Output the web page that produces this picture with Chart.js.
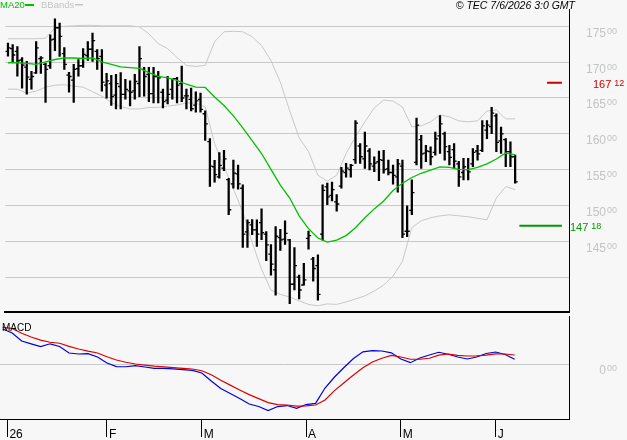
<!DOCTYPE html>
<html lang="en">
  <head>
    <meta charset="UTF-8" />
    <title>TEC daily chart</title>
    <script src="https://cdn.jsdelivr.net/npm/chart.js"></script>
    <style>
      body {
        margin: 0;
        background: #f7f7f7;
      }
      .wrap {
        position: relative;
        width: 627px;
        height: 440px;
        overflow: hidden;
      }
      #priceChart {
        position: absolute;
        left: 0;
        top: 0;
      }
      #macdChart {
        position: absolute;
        left: 0;
        top: 316px;
      }
    </style>
  </head>
  <body>
    <div class="wrap">
      <canvas id="priceChart" width="627" height="317"></canvas>
      <canvas id="macdChart" width="627" height="124"></canvas>
    </div>

    <script>
      // daily bars, index 0 = 31 Dec, index 1 = first session of January
      const opens = [171.5, 171.9, 171.5, 170.3, 169.3, 167.6, 168.5, 170.5, 169.7, 169.5,
        173.2, 174.8, 171.2, 168.2, 167.5, 169.1, 169.5, 170.9, 171.8, 171.5,
        170.8, 166.8, 167.0, 165.4, 166.6, 165.5, 166.0, 166.0, 167.0, 169.0,
        168.3, 165.6, 168.0, 165.8, 164.7, 166.2, 167.7, 167.0, 165.3, 164.8,
        164.0, 164.8, 162.8, 158.9, 155.4, 154.0, 155.2, 153.6, 153.0, 154.4,
        152.4, 146.3, 147.3, 146.6, 147.6, 146.0, 143.2, 141.0, 145.5, 145.3,
        145.2, 139.0, 140.0, 138.9, 145.4, 142.5, 141.6, 146.0, 152.6, 151.4,
        150.5, 152.7, 154.6, 155.0, 156.4, 158.3, 156.5, 157.6, 155.5, 156.1,
        156.3, 155.1, 154.6, 154.0, 155.5, 146.4, 149.3, 156.0, 159.2, 157.3,
        157.5, 157.4, 159.7, 160.0, 157.5, 157.8, 155.8, 154.6, 155.0, 155.8,
        157.6, 157.7, 160.5, 161.0, 162.5, 159.0, 159.2, 157.5, 156.8];
      const highs = [172.68, 172.44, 172.17, 170.65, 170.10, 168.72, 172.86, 170.79, 169.82, 173.83,
        176.04, 175.44, 172.03, 168.58, 169.68, 170.37, 171.89, 172.86, 174.06, 171.75,
        171.75, 168.44, 168.16, 168.30, 168.53, 167.61, 167.38, 168.30, 172.17, 169.27,
        169.27, 169.27, 168.72, 166.23, 168.03, 167.61, 167.89, 169.45, 166.23, 166.37,
        165.86, 165.68, 163.19, 159.32, 156.29, 157.39, 157.71, 153.80, 156.33, 155.64,
        152.88, 148.00, 148.04, 148.00, 149.52, 146.35, 144.55, 147.04, 146.66, 147.86,
        145.28, 144.13, 140.27, 141.92, 146.44, 142.75, 143.10, 152.88, 153.11, 153.25,
        151.52, 155.32, 155.87, 155.73, 161.85, 158.63, 160.25, 157.94, 156.80, 157.60,
        157.71, 156.33, 155.64, 156.42, 156.33, 149.93, 153.57, 162.20, 159.78, 158.40,
        158.18, 160.25, 162.54, 160.25, 158.40, 158.63, 156.15, 156.56, 156.56, 157.94,
        158.40, 161.85, 161.85, 163.70, 162.78, 160.94, 159.32, 158.87, 157.02];
      const lows = [170.83, 169.92, 168.03, 166.37, 165.54, 166.23, 168.44, 168.44, 164.39, 169.13,
        171.62, 170.79, 168.99, 165.82, 164.39, 168.03, 169.27, 170.24, 170.10, 168.99,
        165.95, 164.99, 163.95, 163.47, 163.47, 164.85, 163.88, 164.85, 165.20, 165.27,
        164.50, 164.30, 164.30, 163.61, 164.16, 164.85, 164.30, 164.50, 163.47, 163.19,
        163.01, 163.01, 159.09, 152.66, 153.25, 153.80, 154.84, 148.73, 152.42, 152.28,
        144.13, 144.13, 145.93, 144.27, 145.24, 142.30, 140.27, 137.46, 143.72, 144.55,
        136.30, 138.20, 136.95, 138.89, 143.90, 139.44, 136.77, 145.17, 150.11, 150.63,
        149.20, 152.42, 153.94, 153.94, 155.87, 155.87, 155.18, 154.95, 154.73, 153.46,
        154.49, 154.26, 152.97, 151.87, 145.51, 145.65, 148.73, 155.64, 155.18, 156.11,
        155.64, 157.02, 157.25, 156.33, 155.64, 155.18, 152.66, 153.57, 153.57, 155.42,
        156.33, 157.49, 159.32, 160.01, 157.49, 157.25, 155.42, 155.42, 153.11];
      const closes = [172.0, 171.0, 170.2, 169.6, 167.9, 168.0, 172.0, 170.6, 169.0, 173.1,
        174.8, 173.6, 169.7, 168.0, 169.0, 169.5, 171.1, 171.8, 173.0, 170.5,
        167.2, 167.4, 165.2, 167.0, 165.5, 166.2, 165.8, 167.3, 170.5, 168.0,
        165.6, 168.0, 167.8, 164.5, 165.5, 167.7, 166.8, 165.0, 165.3, 163.5,
        164.6, 163.4, 161.4, 155.5, 154.3, 155.6, 156.5, 149.4, 154.5, 153.0,
        146.0, 147.6, 146.6, 146.0, 146.2, 144.5, 141.8, 145.7, 145.2, 146.1,
        139.0, 141.6, 138.2, 139.6, 145.8, 141.2, 137.6, 152.1, 151.2, 152.2,
        150.2, 154.8, 155.2, 155.6, 161.5, 156.8, 158.3, 155.8, 155.9, 156.4,
        155.0, 154.6, 154.2, 155.8, 146.0, 146.4, 151.8, 161.2, 157.2, 157.6,
        156.8, 159.3, 161.4, 158.2, 156.7, 156.2, 154.0, 155.4, 154.7, 157.4,
        157.2, 161.1, 161.2, 162.9, 158.8, 160.0, 157.5, 156.8, 153.3];

      // indicator lines, read every second session
      const lineIdx = [0, 2, 4, 6, 8, 10, 12, 14, 16, 18, 20, 22, 24, 26, 28, 30, 32, 34, 36, 38,
        40, 42, 44, 46, 48, 50, 52, 54, 56, 58, 60, 62, 64, 66, 68, 70, 72, 74, 76, 78,
        80, 82, 84, 86, 88, 90, 92, 94, 96, 98, 100, 102, 104, 106, 108];
      const ma20 = [169.92, 169.92, 169.82, 169.68, 170.03, 170.37, 170.61, 170.58, 170.51, 170.58,
        170.03, 169.68, 169.34, 169.23, 169.13, 168.54, 168.03, 167.82, 167.47, 166.92,
        166.51, 166.47, 165.13, 163.95, 162.50, 160.84, 159.05, 157.25, 155.04, 152.84,
        151.04, 148.55, 146.76, 145.45, 144.89, 145.17, 145.79, 146.90, 148.28, 149.52,
        150.63, 152.08, 153.11, 153.90, 154.49, 154.93, 155.39, 155.32, 155.04, 155.00,
        155.32, 155.80, 156.49, 157.32, 157.05];
      const bbUpper = [173.27, 173.27, 173.27, 173.27, 173.34, 174.79, 175.00, 175.07, 175.14, 175.14,
        175.07, 175.07, 175.07, 175.07, 174.93, 173.96, 172.58, 171.89, 170.65, 169.55,
        169.41, 169.55, 172.86, 174.24, 174.31, 174.24, 173.55, 172.31, 170.24, 167.20,
        163.19, 159.46, 157.53, 154.22, 153.39, 154.22, 157.25, 159.60, 161.67, 163.61,
        164.71, 164.57, 163.74, 160.98, 161.12, 161.67, 162.64, 162.36, 161.81, 161.67,
        161.81, 163.19, 163.33, 162.09, 162.09];
      const bbLower = [166.23, 166.23, 165.68, 165.95, 166.51, 166.78, 166.85, 166.65, 166.51, 165.89,
        165.26, 164.37, 163.81, 163.47, 163.47, 163.68, 163.68, 163.88, 164.02, 164.30,
        164.30, 163.74, 158.64, 155.46, 152.28, 149.11, 144.83, 141.10, 138.20, 137.58,
        137.23, 136.68, 136.19, 135.99, 136.26, 136.19, 136.54, 136.95, 137.37, 138.06,
        138.89, 140.13, 142.20, 146.90, 147.86, 148.28, 148.55, 148.69, 148.55, 148.42,
        148.21, 148.00, 151.04, 152.63, 152.21];
      const macd = [5.25, 4.65, 3.45, 3.03, 2.60, 3.03, 2.63, 1.65, 1.50, 1.55,
        1.05, 0.15, -0.38, -0.41, -0.23, -0.45, -0.65, -0.65, -0.72, -0.83,
        -0.96, -1.35, -2.55, -3.68, -4.43, -5.18, -6.00, -6.38, -6.98, -6.38,
        -6.23, -6.65, -6.08, -5.90, -3.60, -1.95, -0.53, 0.83, 1.83, 2.00,
        1.95, 1.68, 0.75, 0.20, 0.90, 1.35, 1.76, 1.46, 1.05, 0.75,
        1.05, 1.58, 1.80, 1.43, 0.71];
      const signal = [5.49, 5.33, 4.61, 4.05, 3.59, 3.26, 3.11, 2.64, 2.25, 1.92,
        1.65, 1.08, 0.60, 0.26, 0.00, -0.18, -0.33, -0.44, -0.54, -0.66,
        -0.75, -1.01, -1.61, -2.43, -3.17, -3.89, -4.59, -5.19, -5.79, -6.09,
        -6.15, -6.33, -6.27, -6.15, -5.40, -3.99, -2.82, -1.65, -0.57, 0.30,
        0.87, 1.28, 1.05, 0.71, 0.71, 0.86, 1.32, 1.50, 1.28, 1.20,
        1.23, 1.32, 1.53, 1.50, 1.35];

      // price levels drawn to the right of the last bar
      const resistance = 167.12;
      const support = 147.18;

      // axes
      const priceTicks = [140, 145, 150, 155, 160, 165, 170, 175];
      const priceLabelTicks = [145, 150, 155, 160, 165, 170, 175];
      const monthTickIdx = [1, 22, 42, 64, 84, 104];
      const monthLabels = ["26", "F", "M", "A", "M", "J"];

      const FONT = '"Liberation Sans", Arial, sans-serif';
      const X_MIN = -0.57;
      const X_MAX = 119.47;

      const pts = (arr) => arr.map((v, k) => ({ x: lineIdx[k], y: v }));

      // big figures + small superscript decimals, like "175 00"
      function splitLabel(ctx, value, x, y, color, big, small, align) {
        const whole = Math.floor(value);
        const dec = Math.round((value - whole) * 100).toString().padStart(2, "0");
        ctx.fillStyle = color;
        ctx.textBaseline = "alphabetic";
        if (align === "right") {
          ctx.font = big + "px " + FONT;
          ctx.textAlign = "right";
          ctx.fillText(String(whole), x, y + big * 0.78);
          ctx.font = small + "px " + FONT;
          ctx.textAlign = "left";
          ctx.fillText(dec, x + 1, y + small * 0.72);
        } else {
          ctx.font = big + "px " + FONT;
          ctx.textAlign = "left";
          ctx.fillText(String(whole), x, y + big * 0.78);
          const w = ctx.measureText(String(whole)).width;
          ctx.font = small + "px " + FONT;
          ctx.fillText(dec, x + w + 3, y + small * 0.72);
        }
      }

      const priceText = {
        id: "priceText",
        afterDraw(chart) {
          const ctx = chart.ctx;
          const ys = chart.scales.y;
          ctx.save();
          priceLabelTicks.forEach((v) => {
            splitLabel(ctx, v, 606, ys.getPixelForValue(v) + 1, "#c4c4c4", 12, 9, "right");
          });
          splitLabel(ctx, resistance, 593, ys.getPixelForValue(resistance) - 3.5, "#cc0000", 11, 9, "left");
          splitLabel(ctx, support, 570, ys.getPixelForValue(support) - 3.5, "#009900", 11, 9, "left");

          // legend
          ctx.textAlign = "left";
          ctx.textBaseline = "alphabetic";
          ctx.font = "9.5px " + FONT;
          ctx.fillStyle = "#00c000";
          ctx.fillText("MA20", 0, 8);
          ctx.fillRect(25, 4, 9, 2);
          ctx.fillStyle = "#c4c4c4";
          ctx.fillText("BBands", 41, 8);
          ctx.fillRect(75, 4, 8, 1.5);

          // stamp
          ctx.fillStyle = "#000";
          ctx.font = "italic 10.5px " + FONT;
          ctx.textAlign = "right";
          ctx.fillText("\u00a9 TEC 7/6/2026 3:0 GMT", 575, 8.5);
          ctx.restore();
        },
      };

      const macdText = {
        id: "macdText",
        afterDraw(chart) {
          const ctx = chart.ctx;
          ctx.save();
          splitLabel(ctx, 0, 606, chart.scales.y.getPixelForValue(0) + 1, "#c4c4c4", 12, 9, "right");
          ctx.fillStyle = "#000";
          ctx.font = "10px " + FONT;
          ctx.textAlign = "left";
          ctx.textBaseline = "alphabetic";
          ctx.fillText("MACD", 2, 15);
          ctx.restore();
        },
      };

      new Chart(document.getElementById("priceChart"), {
        type: "bar",
        data: {
          datasets: [
            {
              type: "line",
              data: [{ x: 114.8, y: resistance }, { x: 117.96, y: resistance }],
              borderColor: "#cc0000",
              borderWidth: 2,
              pointRadius: 0,
              order: 1,
            },
            {
              type: "line",
              data: [{ x: 108.9, y: support }, { x: 117.96, y: support }],
              borderColor: "#009900",
              borderWidth: 2,
              pointRadius: 0,
              order: 1,
            },
            {
              type: "line",
              data: pts(ma20),
              borderColor: "#00c000",
              borderWidth: 1.3,
              pointRadius: 0,
              order: 2,
            },
            {
              type: "scatter",
              data: opens.map((v, i) => ({ x: i - 0.3, y: v })),
              pointStyle: "line",
              radius: 1.2,
              borderColor: "#000",
              borderWidth: 1.3,
              order: 3,
            },
            {
              type: "scatter",
              data: closes.map((v, i) => ({ x: i + 0.3, y: v })),
              pointStyle: "line",
              radius: 1.2,
              borderColor: "#000",
              borderWidth: 1.3,
              order: 3,
            },
            {
              type: "bar",
              data: highs.map((h, i) => ({ x: i, y: [lows[i], h] })),
              backgroundColor: "#000",
              barThickness: 1.6,
              grouped: false,
              order: 4,
            },
            {
              type: "line",
              data: pts(bbUpper),
              borderColor: "#c8c8c8",
              borderWidth: 1,
              pointRadius: 0,
              order: 5,
            },
            {
              type: "line",
              data: pts(bbLower),
              borderColor: "#c8c8c8",
              borderWidth: 1,
              pointRadius: 0,
              order: 5,
            },
          ],
        },
        options: {
          responsive: false,
          animation: false,
          events: [],
          layout: { padding: { top: 9, left: 0, right: 0, bottom: 0 } },
          plugins: { legend: { display: false }, tooltip: { enabled: false } },
          scales: {
            x: {
              type: "linear",
              offset: false,
              min: X_MIN,
              max: X_MAX,
              ticks: { display: false },
              grid: { offset: false, drawOnChartArea: false, drawTicks: false },
              border: { color: "#000", width: 2 },
              afterFit: (s) => {
                s.height = 2;
              },
            },
            y: {
              position: "right",
              min: 135.17,
              max: 177.42,
              afterBuildTicks: (s) => {
                s.ticks = priceTicks.map((v) => ({ value: v }));
              },
              ticks: { display: false },
              grid: { color: "#c8c8c8", drawTicks: false },
              border: { color: "#000", width: 1 },
              afterFit: (s) => {
                s.width = 58;
              },
            },
          },
        },
        plugins: [priceText],
      });

      new Chart(document.getElementById("macdChart"), {
        type: "line",
        data: {
          datasets: [
            {
              data: pts(signal),
              borderColor: "#dd0000",
              borderWidth: 1.2,
              pointRadius: 0,
              order: 1,
            },
            {
              data: pts(macd),
              borderColor: "#0000dd",
              borderWidth: 1.2,
              pointRadius: 0,
              order: 2,
            },
          ],
        },
        options: {
          responsive: false,
          animation: false,
          events: [],
          layout: { padding: 0 },
          plugins: { legend: { display: false }, tooltip: { enabled: false } },
          scales: {
            x: {
              type: "linear",
              min: X_MIN,
              max: X_MAX,
              afterBuildTicks: (s) => {
                s.ticks = monthTickIdx.map((v) => ({ value: v }));
              },
              ticks: {
                autoSkip: false,
                maxRotation: 0,
                align: "start",
                labelOffset: 2,
                padding: -10,
                color: "#000",
                font: { family: FONT, size: 12 },
                callback: (v, i) => monthLabels[i],
              },
              grid: { drawOnChartArea: false, drawTicks: true, tickLength: 18, tickColor: "#000", tickWidth: 1 },
              border: { color: "#000", width: 1 },
              afterFit: (s) => {
                s.height = 21;
              },
            },
            y: {
              position: "right",
              min: -8.25,
              max: 7.2,
              afterBuildTicks: (s) => {
                s.ticks = [{ value: 0 }];
              },
              ticks: { display: false },
              grid: { color: "#c8c8c8", drawTicks: false },
              border: { color: "#000", width: 1 },
              afterFit: (s) => {
                s.width = 58;
              },
            },
          },
        },
        plugins: [macdText],
      });
    </script>
  </body>
</html>
